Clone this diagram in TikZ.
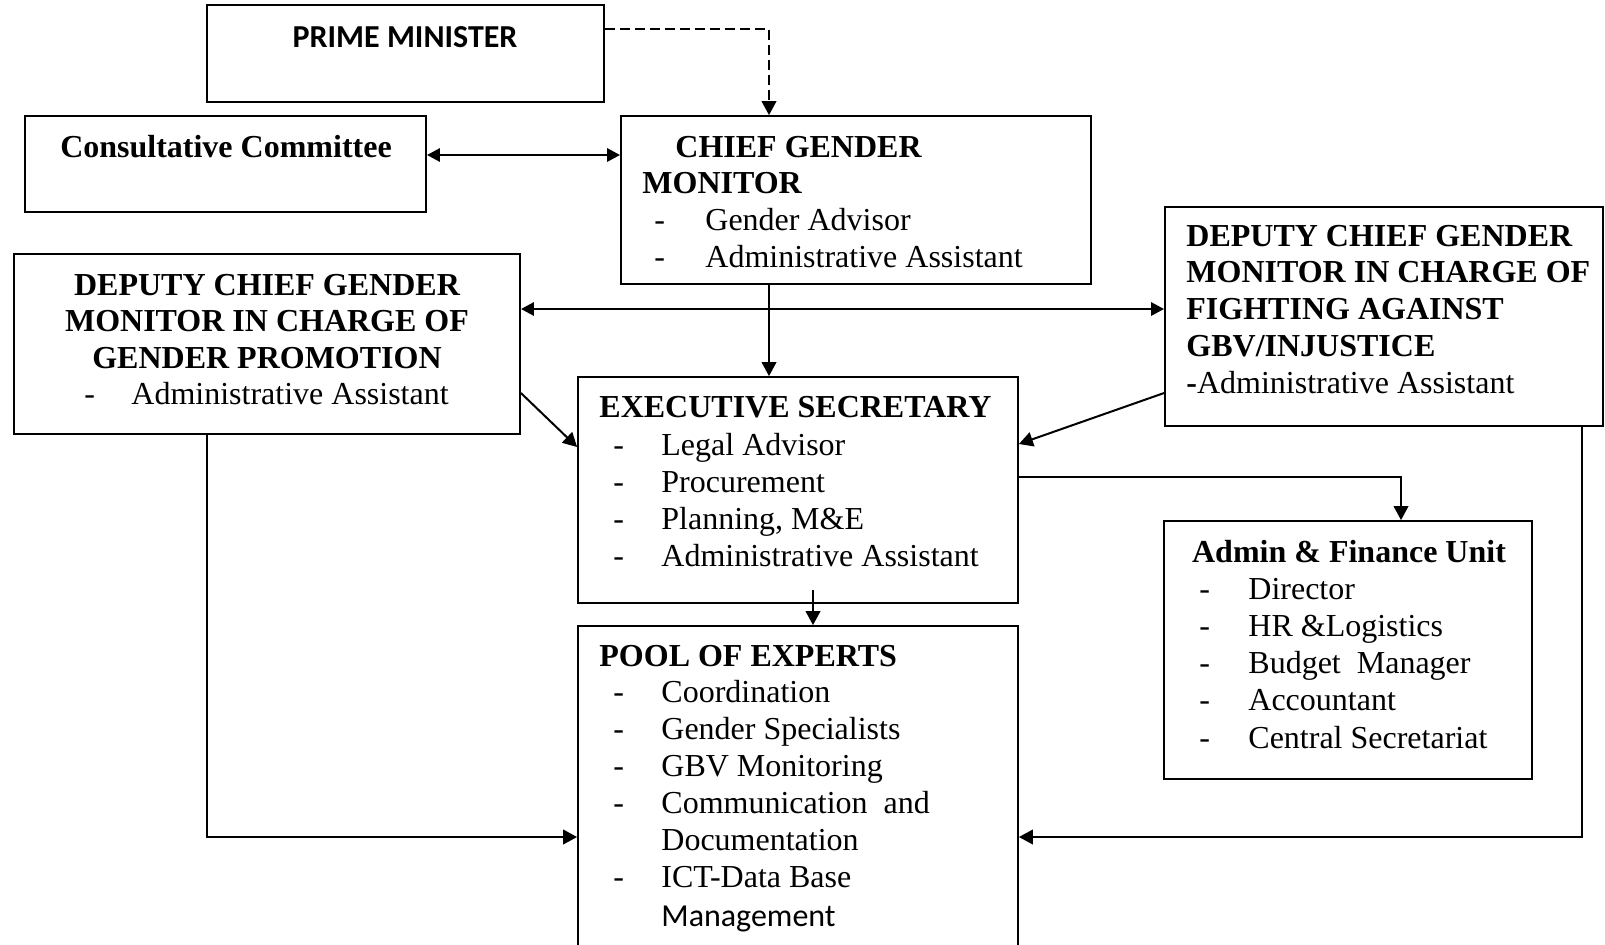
\documentclass[tikz,border=0pt]{standalone}
\usepackage{fontspec}
\setmainfont{Liberation Serif}
\newfontfamily\calibri{Carlito}
\usetikzlibrary{arrows.meta,fit}

\begin{document}
\begin{tikzpicture}[x=0.5pt,y=-0.5pt,
            box/.style={draw,line width=0.9pt,inner sep=0pt},
            txt/.style={inner sep=0pt,anchor=base west,font=\fontsize{16}{19}\selectfont},
            head/.style={txt,font=\fontsize{16}{19}\selectfont\bfseries},
            link/.style={line width=1pt,-{Triangle[length=7pt,width=7.3pt]}},
            twoway/.style={line width=1.4pt,{Triangle[length=6.5pt,width=6.5pt]}-{Triangle[length=6.5pt,width=6.5pt]}},
            dashline/.style={link,dash pattern=on 5pt off 2.5pt}]
            \useasboundingbox (0,0) rectangle (1605,944);
            % boxes
            \node[box,fit={(207,5) (604,102)}] (pm) {};
            \node[box,fit={(25,116) (426,212)}] (cc) {};
            \node[box,fit={(621,116) (1091,284)}] (cgm) {};
            \node[box,fit={(14,254) (520,434)}] (dl) {};
            \node[box,fit={(1165,207) (1603,426)}] (dr) {};
            \node[box,fit={(578,377) (1018,603)}] (es) {};
            \node[box,fit={(1164,521) (1532,779)}] (af) {};
            \node[box,fit={(578,626) (1018,950)}] (pe) {};
            % texts
            \node[txt,font=\fontsize{16}{19}\selectfont\calibri\bfseries,anchor=base] (pmt) at (405,47) {PRIME MINISTER};
            \node[head,anchor=base] (cct) at (226,157) {Consultative Committee};
            \node[head] (cgmt1) at (675,157) {CHIEF GENDER};
            \node[head] (cgmt2) at (642,193) {MONITOR};
            \foreach \t [count=\i from 0] in {Gender Advisor,Administrative Assistant}
            {
                \node[txt] (cgmd\i) at (654,230+37*\i) {-};
                \node[txt] (cgmi\i) at (705,230+37*\i) {\t};
            }
            \node[head,anchor=base] (dlt1) at (267,295) {DEPUTY CHIEF GENDER};
            \node[head,anchor=base] (dlt2) at (267,331) {MONITOR IN CHARGE OF};
            \node[head,anchor=base] (dlt3) at (267,368) {GENDER PROMOTION};
            \node[txt] (dld) at (84,404) {-};
            \node[txt] (dli) at (131,404) {Administrative Assistant};
            \foreach \t [count=\i from 0] in {DEPUTY CHIEF GENDER,MONITOR IN CHARGE OF,FIGHTING AGAINST,GBV/INJUSTICE}
            {
                \node[head] (drt\i) at (1186,246+36.8*\i) {\t};
            }
            \node[txt] (dri) at (1186,393) {\textbf{-}Administrative Assistant};
            \node[head] (est) at (599,417) {EXECUTIVE SECRETARY};
            \foreach \t [count=\i from 0] in {Legal Advisor,Procurement,{Planning, M\&E},Administrative Assistant}
            {
                \node[txt] (esd\i) at (613,455+37*\i) {-};
                \node[txt] (esi\i) at (661,455+37*\i) {\t};
            }
            \node[head,anchor=base] (aft) at (1349,562) {Admin \& Finance Unit};
            \foreach \t [count=\i from 0] in {Director,HR \&Logistics,Budget\ \ Manager,Accountant,Central Secretariat}
            {
                \node[txt] (afd\i) at (1199,599+37.3*\i) {-};
                \node[txt] (afi\i) at (1248,599+37.3*\i) {\t};
            }
            \node[head] (pet) at (599,666) {POOL OF EXPERTS};
            \foreach \t [count=\i from 0] in {Coordination,Gender Specialists,GBV Monitoring,Communication\ \ and}
            {
                \node[txt] (ped\i) at (613,702+37*\i) {-};
                \node[txt] (pei\i) at (661,702+37*\i) {\t};
            }
            \node[txt] (pei4) at (661,850) {Documentation};
            \node[txt] (ped5) at (613,887) {-};
            \node[txt] (pei5) at (661,887) {ICT-Data Base};
            \node[txt,font=\fontsize{16}{19}\selectfont\calibri] (pei6) at (661,926) {Management};
            % connectors
            \draw[dashline] (pm.east |- 0,29) -| (cgm.north -| 769,0);
            \draw[twoway] (cc.east |- 0,155) -- (cgm.west |- 0,155);
            \draw[twoway] (dl.east |- 0,309) -- (dr.west |- 0,309);
            \draw[link] (cgm.south -| 769,0) -- (es.north -| 769,0);
            \draw[link] (dl.east |- 0,393) -- (es.west |- 0,447);
            \draw[link] (dr.west |- 0,393) -- (es.east |- 0,444);
            \draw[link] (es.east |- 0,477) -| (af.north -| 1401,0);
            \draw[link] ([yshift=7pt]es.south -| 813,0) -- (pe.north -| 813,0);
            \draw[link] (dl.south -| 207,0) |- (pe.west |- 0,837);
            \draw[link] (dr.south -| 1582,0) |- (pe.east |- 0,837);
        \end{tikzpicture}
\end{document}
